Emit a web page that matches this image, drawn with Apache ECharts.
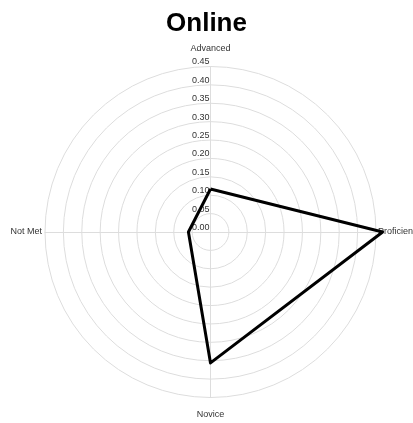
<!DOCTYPE html>
<html lang="en">
<head>
    <meta charset="UTF-8">
    <title>Online</title>
    <script src="https://cdn.jsdelivr.net/npm/echarts@6/dist/echarts.min.js"></script>
</head>
<body style="margin:0">
    <div id="chart" style="width: 413px; height: 423px;"></div>
    <script>
        // categories and values
        // (radar runs counter-clockwise, so order is top, left, bottom, right)
        const categories = ['Advanced', 'Not Met', 'Novice', 'Proficient'];
        const values = [0.117, 0.06, 0.356, 0.468];
        const nameGaps = [13, 3, 13, 2];
        const scaleMax = 0.45;

        var myChart = echarts.init(document.getElementById('chart'));

        const option = {
            title: {
                text: 'Online',
                left: 'center',
                top: 6,
                textStyle: { fontFamily: 'Liberation Sans', fontSize: 26, fontWeight: 'bold', color: '#000' }
            },
            radar: {
                shape: 'circle',
                center: [210.5, 232],
                radius: 165.5,
                startAngle: 90,
                splitNumber: 9,
                indicator: categories.map((c, i) => ({
                    name: c,
                    min: 0,
                    max: scaleMax,
                    nameGap: nameGaps[i],
                    axisLabel: { show: i === 0 }
                })),
                axisName: { color: '#333', fontSize: 9, fontFamily: 'Liberation Sans' },
                axisLine: { lineStyle: { color: '#ddd', width: 1 } },
                splitLine: { lineStyle: { color: '#ddd', width: 1 } },
                splitArea: { show: false },
                axisLabel: {
                    show: false,
                    color: '#333',
                    fontSize: 9,
                    fontFamily: 'Liberation Sans',
                    align: 'right',
                    verticalAlign: 'bottom',
                    margin: 1,
                    formatter: v => v.toFixed(2)
                }
            },
            series: [
                {
                    type: 'radar',
                    symbol: 'none',
                    lineStyle: { color: '#000', width: 3 },
                    data: [{ value: values, name: 'Online' }]
                }
            ]
        };

        myChart.setOption(option);
    </script>
</body>
</html>
